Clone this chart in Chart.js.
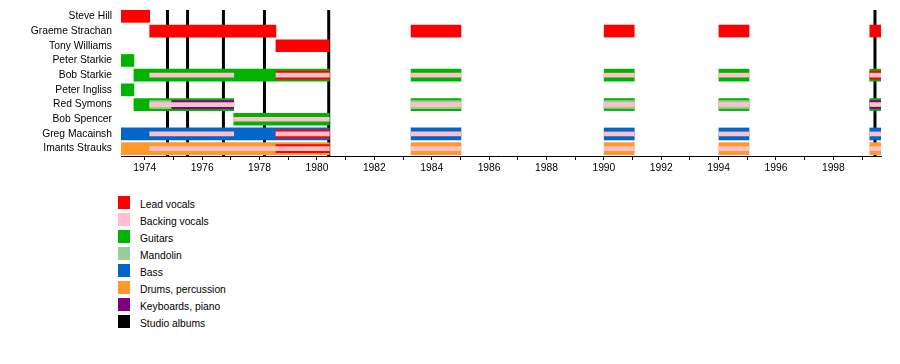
<!DOCTYPE html>
<html>
<head>
<meta charset="utf-8">
<script src="https://cdn.jsdelivr.net/npm/chart.js@4"></script>
<style>
  body { margin: 0; background: #fff; font-family: "Liberation Sans", Arial, sans-serif; }
  #wrap { position: absolute; left: 0; top: 0; width: 900px; height: 180px; }
  #legend { position: absolute; left: 118px; top: 196px; font-size: 10.3px; color: #000; }
  .item { height: 17px; display: flex; align-items: flex-start; }
  .sw { width: 12px; height: 12.5px; margin-right: 10px; }
  .txt { line-height: 13px; margin-top: 1.5px; }
</style>
</head>
<body>
<div id="wrap"><canvas id="chart"></canvas></div>
<div id="legend"></div>
<script>
// membros (de cima para baixo)
const members = ['Steve Hill', 'Graeme Strachan', 'Tony Williams', 'Peter Starkie', 'Bob Starkie',
                 'Peter Ingliss', 'Red Symons', 'Bob Spencer', 'Greg Macainsh', 'Imants Strauks'];

const yearStart = 1973.17;
const yearEnd = 1999.66;
const tickYears = [1974, 1975, 1976, 1977, 1978, 1979, 1980, 1981, 1982, 1983, 1984, 1985, 1986,
                   1987, 1988, 1989, 1990, 1991, 1992, 1993, 1994, 1995, 1996, 1997, 1998, 1999];
const labeledYears = [1974, 1976, 1978, 1980, 1982, 1984, 1986, 1988, 1990, 1992, 1994, 1996, 1998];

// albuns de estudio (linhas verticais)
const studioAlbums = [1974.79, 1975.49, 1976.74, 1978.17, 1980.41, 1999.45];

// [membro, de, ate]
const leadVocals = [
    ['Steve Hill', 1973.17, 1974.17],
    ['Graeme Strachan', 1974.17, 1978.57],
    ['Graeme Strachan', 1983.28, 1985.02],
    ['Graeme Strachan', 1990.01, 1991.06],
    ['Graeme Strachan', 1994.01, 1995.06],
    ['Graeme Strachan', 1999.27, 1999.66],
    ['Tony Williams', 1978.57, 1980.43],
];
const guitars = [
    ['Peter Starkie', 1973.17, 1973.62],
    ['Bob Starkie', 1973.62, 1980.43],
    ['Bob Starkie', 1983.28, 1985.02],
    ['Bob Starkie', 1990.01, 1991.06],
    ['Bob Starkie', 1994.01, 1995.06],
    ['Bob Starkie', 1999.27, 1999.66],
    ['Peter Ingliss', 1973.17, 1973.62],
    ['Red Symons', 1973.62, 1977.1],
    ['Red Symons', 1983.28, 1985.02],
    ['Red Symons', 1990.01, 1991.06],
    ['Red Symons', 1994.01, 1995.06],
    ['Red Symons', 1999.27, 1999.66],
    ['Bob Spencer', 1977.1, 1980.43],
];
const bass = [
    ['Greg Macainsh', 1973.17, 1980.43],
    ['Greg Macainsh', 1983.28, 1985.02],
    ['Greg Macainsh', 1990.01, 1991.06],
    ['Greg Macainsh', 1994.01, 1995.06],
    ['Greg Macainsh', 1999.27, 1999.66],
];
const drums = [
    ['Imants Strauks', 1973.17, 1980.43],
    ['Imants Strauks', 1983.28, 1985.02],
    ['Imants Strauks', 1990.01, 1991.06],
    ['Imants Strauks', 1994.01, 1995.06],
    ['Imants Strauks', 1999.27, 1999.66],
];
// funcoes secundarias (faixas mais finas)
const leadVocalsExtra = [
    ['Bob Starkie', 1978.57, 1980.43],
    ['Bob Starkie', 1999.27, 1999.66],
    ['Greg Macainsh', 1978.57, 1980.43],
    ['Imants Strauks', 1978.57, 1980.43],
];
const keyboards = [
    ['Red Symons', 1974.94, 1977.1],
    ['Red Symons', 1999.27, 1999.66],
];
const mandolin = [
    ['Red Symons', 1974.17, 1974.94],
    ['Red Symons', 1983.28, 1985.02],
    ['Red Symons', 1990.01, 1991.06],
    ['Red Symons', 1994.01, 1995.06],
];
const backingVocals = [
    ['Bob Starkie', 1974.17, 1977.1],
    ['Bob Starkie', 1978.57, 1980.43],
    ['Bob Starkie', 1983.28, 1985.02],
    ['Bob Starkie', 1990.01, 1991.06],
    ['Bob Starkie', 1994.01, 1995.06],
    ['Bob Starkie', 1999.27, 1999.66],
    ['Red Symons', 1974.17, 1977.1],
    ['Red Symons', 1983.28, 1985.02],
    ['Red Symons', 1990.01, 1991.06],
    ['Red Symons', 1994.01, 1995.06],
    ['Red Symons', 1999.27, 1999.66],
    ['Bob Spencer', 1977.1, 1980.43],
    ['Greg Macainsh', 1974.17, 1977.1],
    ['Greg Macainsh', 1978.57, 1980.43],
    ['Greg Macainsh', 1983.28, 1985.02],
    ['Greg Macainsh', 1990.01, 1991.06],
    ['Greg Macainsh', 1994.01, 1995.06],
    ['Greg Macainsh', 1999.27, 1999.66],
    ['Imants Strauks', 1974.17, 1980.43],
    ['Imants Strauks', 1983.28, 1985.02],
    ['Imants Strauks', 1990.01, 1991.06],
    ['Imants Strauks', 1994.01, 1995.06],
    ['Imants Strauks', 1999.27, 1999.66],
];

const legendLabels = ['Lead vocals', 'Backing vocals', 'Guitars', 'Mandolin', 'Bass',
                      'Drums, percussion', 'Keyboards, piano', 'Studio albums'];

const cores = {
    'Lead vocals': '#ff0000',
    'Backing vocals': '#ffc0cb',
    'Guitars': '#00b300',
    'Mandolin': '#99cc99',
    'Bass': '#0066cc',
    'Drums, percussion': '#ff9a2a',
    'Keyboards, piano': '#800080',
    'Studio albums': '#000000'
};

const FONT = '"Liberation Sans", Arial, sans-serif';

/* =======================
   DATASETS
======================= */
const toBars = (list) => list.map(([m, a, b]) => ({ y: m, x: [a, b] }));

const makeSet = (label, list, thickness, order) => ({
    label: label,
    data: toBars(list),
    backgroundColor: cores[label],
    borderWidth: 0,
    barThickness: thickness,
    maxBarThickness: thickness,
    barPercentage: 1,
    categoryPercentage: 1,
    grouped: false,
    order: order
});

const datasets = [
    makeSet('Lead vocals', leadVocals, 12, 4),
    makeSet('Guitars', guitars, 12, 4),
    makeSet('Bass', bass, 12, 4),
    makeSet('Drums, percussion', drums, 12, 4),
    makeSet('Lead vocals', leadVocalsExtra, 8, 3),
    makeSet('Keyboards, piano', keyboards, 8, 3),
    makeSet('Mandolin', mandolin, 8, 3),
    makeSet('Backing vocals', backingVocals, 4, 1),
];

/* =======================
   LINHAS DOS ALBUNS
======================= */
const albumLines = {
    id: 'albumLines',
    beforeDatasetsDraw(chart) {
        const { ctx, chartArea, scales: { x } } = chart;
        ctx.save();
        ctx.strokeStyle = cores['Studio albums'];
        ctx.lineWidth = 3;
        studioAlbums.forEach(ano => {
            const px = x.getPixelForValue(ano);
            ctx.beginPath();
            ctx.moveTo(px, chartArea.top + 1);
            ctx.lineTo(px, chartArea.bottom);
            ctx.stroke();
        });
        ctx.restore();
    }
};

new Chart(document.getElementById('chart'), {
    type: 'bar',
    data: { labels: members, datasets: datasets },
    options: {
        indexAxis: 'y',
        responsive: true,
        maintainAspectRatio: false,
        animation: false,
        layout: { padding: { top: 9, right: 19, left: 0, bottom: 0 } },
        plugins: { legend: { display: false }, tooltip: { enabled: false } },
        scales: {
            x: {
                type: 'linear',
                min: yearStart,
                max: yearEnd,
                afterBuildTicks: s => { s.ticks = tickYears.map(v => ({ value: v })); },
                afterFit: s => { s.height = 24; s.paddingLeft = 0; s.paddingRight = 0; },
                grid: { display: true, drawOnChartArea: false, drawTicks: true, tickLength: 4, color: '#000' },
                border: { display: true, color: '#000', width: 1 },
                ticks: {
                    autoSkip: false,
                    maxRotation: 0,
                    padding: 2,
                    color: '#000',
                    font: { family: FONT, size: 10.3 },
                    callback: v => labeledYears.includes(v) ? String(v) : ''
                }
            },
            y: {
                type: 'category',
                afterFit: s => { s.width = 121; s.paddingTop = 0; s.paddingBottom = 0; },
                grid: { display: false, drawTicks: false },
                border: { display: false },
                ticks: { autoSkip: false, padding: 9, color: '#000', font: { family: FONT, size: 10.3 } }
            }
        }
    },
    plugins: [albumLines]
});

/* =======================
   LEGENDA
======================= */
const legenda = document.getElementById('legend');
legendLabels.forEach(nome => {
    const item = document.createElement('div');
    item.className = 'item';
    item.innerHTML = `<div class="sw" style="background:${cores[nome]}"></div><div class="txt">${nome}</div>`;
    legenda.appendChild(item);
});
</script>
</body>
</html>
